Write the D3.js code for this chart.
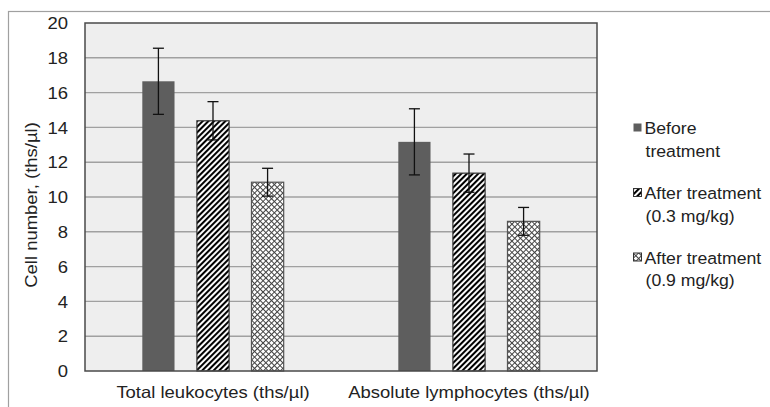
<!DOCTYPE html>
<html>
<head>
<meta charset="utf-8">
<script src="https://d3js.org/d3.v7.min.js"></script>
<style>
  body { margin: 0; background: #fff; }
  svg { display: block; font-family: "Liberation Sans", Arial, sans-serif; }
</style>
</head>
<body>
<script>
const categories = ['Total leukocytes (ths/\u00b5l)', 'Absolute lymphocytes (ths/\u00b5l)'];
const seriesNames = ['before', 'after03', 'after09'];
const legendLines = [['Before', 'treatment'], ['After treatment', '(0.3 mg/kg)'], ['After treatment', '(0.9 mg/kg)']];
const before = [16.65, 13.17];
const beforeErr = [1.9, 1.9];
const after03 = [14.38, 11.37];
const after03Err = [1.1, 1.1];
const after09 = [10.85, 8.6];
const after09Err = [0.8, 0.8];
const yTicks = [0, 2, 4, 6, 8, 10, 12, 14, 16, 18, 20];

const width = 770, height = 407;
const plot = { left: 85, right: 597, top: 23, bottom: 371 };
const fontSize = 16.5;
const stretch = 1.12; // text in the original is wider than Arial

const svg = d3.select('body').append('svg')
  .attr('width', width).attr('height', height);

const defs = svg.append('defs');
const hatch = defs.append('pattern')
  .attr('id', 'hatch').attr('patternUnits', 'userSpaceOnUse')
  .attr('width', 4).attr('height', 4)
  .attr('patternTransform', 'rotate(45)');
hatch.append('rect').attr('width', 4).attr('height', 4).attr('fill', '#fff');
hatch.append('line').attr('x1', 1).attr('x2', 1).attr('y1', 0).attr('y2', 4)
  .attr('stroke', '#000').attr('stroke-width', 2.1);

const cross = defs.append('pattern')
  .attr('id', 'cross').attr('patternUnits', 'userSpaceOnUse')
  .attr('width', 4).attr('height', 4)
  .attr('patternTransform', 'rotate(45)');
cross.append('rect').attr('width', 4).attr('height', 4).attr('fill', '#fff');
cross.append('path').attr('d', 'M0.5,0V4M0,0.5H4')
  .attr('stroke', '#444').attr('stroke-width', 1);

const fills = { before: '#5e5e5e', after03: 'url(#hatch)', after09: 'url(#cross)' };
const strokes = { before: 'none', after03: '#333', after09: '#555' };

// outer chart border (cropped at right/bottom)
svg.append('rect')
  .attr('x', 8.5).attr('y', 11.5).attr('width', 800).attr('height', 420)
  .attr('fill', 'none').attr('stroke', '#a0a0a0').attr('stroke-width', 1.2);

const y = d3.scaleLinear().domain([0, 20]).range([plot.bottom, plot.top]);
const x0 = d3.scaleBand().domain(categories).range([plot.left, plot.right]);
const x1 = d3.scaleBand().domain(seriesNames).range([0, x0.bandwidth()])
  .paddingInner(0.41).paddingOuter(1.05);

svg.append('rect')
  .attr('x', plot.left).attr('y', plot.top)
  .attr('width', plot.right - plot.left).attr('height', plot.bottom - plot.top)
  .attr('fill', '#eeeeee');

// gridlines
svg.append('g')
  .selectAll('line')
  .data(yTicks.filter(d => d > 0 && d < 20))
  .join('line')
  .attr('x1', plot.left).attr('x2', plot.right)
  .attr('y1', d => y(d)).attr('y2', d => y(d))
  .attr('stroke', '#a0a0a0').attr('stroke-width', 1.4);

// y axis labels
const yAxis = svg.append('g')
  .attr('transform', `translate(${plot.left},0)`)
  .call(d3.axisLeft(y).tickValues(yTicks).tickSize(0).tickPadding(0));
yAxis.select('.domain').remove();
yAxis.selectAll('.tick text')
  .attr('x', null).attr('dy', '0.35em')
  .attr('transform', `translate(-17,0) scale(${stretch},1)`)
  .attr('font-size', fontSize).attr('fill', '#222')
  .attr('font-family', '"Liberation Sans", Arial, sans-serif');

svg.append('text')
  .attr('transform', `translate(37,205) rotate(-90) scale(${stretch},1)`)
  .attr('text-anchor', 'middle')
  .attr('font-size', fontSize).attr('fill', '#222')
  .text('Cell number, (ths/\u00b5l)');

const values = { before, after03, after09 };
const errors = { before: beforeErr, after03: after03Err, after09: after09Err };

const rows = [];
categories.forEach((c, i) => {
  seriesNames.forEach(s => {
    rows.push({ cat: c, s, v: values[s][i], e: errors[s][i] });
  });
});

const bars = svg.append('g');
bars.selectAll('rect')
  .data(rows)
  .join('rect')
  .attr('x', d => x0(d.cat) + x1(d.s))
  .attr('width', x1.bandwidth())
  .attr('y', d => y(d.v))
  .attr('height', d => y(0) - y(d.v))
  .attr('fill', d => fills[d.s])
  .attr('stroke', d => strokes[d.s])
  .attr('stroke-width', 1.2);

// plot border
svg.append('rect')
  .attr('x', plot.left).attr('y', plot.top)
  .attr('width', plot.right - plot.left).attr('height', plot.bottom - plot.top)
  .attr('fill', 'none').attr('stroke', '#4a4a4a').attr('stroke-width', 1.5);

// error bars
const err = svg.append('g').attr('stroke', '#111').attr('stroke-width', 1.3);
const cx = d => x0(d.cat) + x1(d.s) + x1.bandwidth() / 2;
err.selectAll('line.v').data(rows).join('line').attr('class', 'v')
  .attr('x1', cx).attr('x2', cx)
  .attr('y1', d => y(d.v + d.e)).attr('y2', d => y(d.v - d.e));
err.selectAll('line.t').data(rows).join('line').attr('class', 't')
  .attr('x1', d => cx(d) - 5.5).attr('x2', d => cx(d) + 5.5)
  .attr('y1', d => y(d.v + d.e)).attr('y2', d => y(d.v + d.e));
err.selectAll('line.b').data(rows).join('line').attr('class', 'b')
  .attr('x1', d => cx(d) - 5.5).attr('x2', d => cx(d) + 5.5)
  .attr('y1', d => y(d.v - d.e)).attr('y2', d => y(d.v - d.e));

// category labels
svg.append('g')
  .selectAll('text')
  .data(categories)
  .join('text')
  .attr('transform', d => `translate(${x0(d) + x0.bandwidth() / 2},398) scale(${stretch},1)`)
  .attr('text-anchor', 'middle')
  .attr('font-size', fontSize).attr('fill', '#222')
  .text(d => d);

// legend
const legend = svg.append('g');
const legY = [134, 199, 263.5];
seriesNames.forEach((s, i) => {
  const g = legend.append('g').attr('transform', `translate(633,${legY[i]})`);
  g.append('rect')
    .attr('x', 0.5).attr('y', -10.5).attr('width', 8).attr('height', 8)
    .attr('fill', fills[s])
    .attr('stroke', s === 'before' ? 'none' : '#333').attr('stroke-width', 1);
  legendLines[i].forEach((t, j) => {
    g.append('text')
      .attr('transform', `translate(${j === 0 ? 11.5 : 12.5},${j * 22.5}) scale(${stretch - 0.05},1)`)
      .attr('font-size', fontSize).attr('fill', '#222')
      .text(t);
  });
});
</script>
</body>
</html>
